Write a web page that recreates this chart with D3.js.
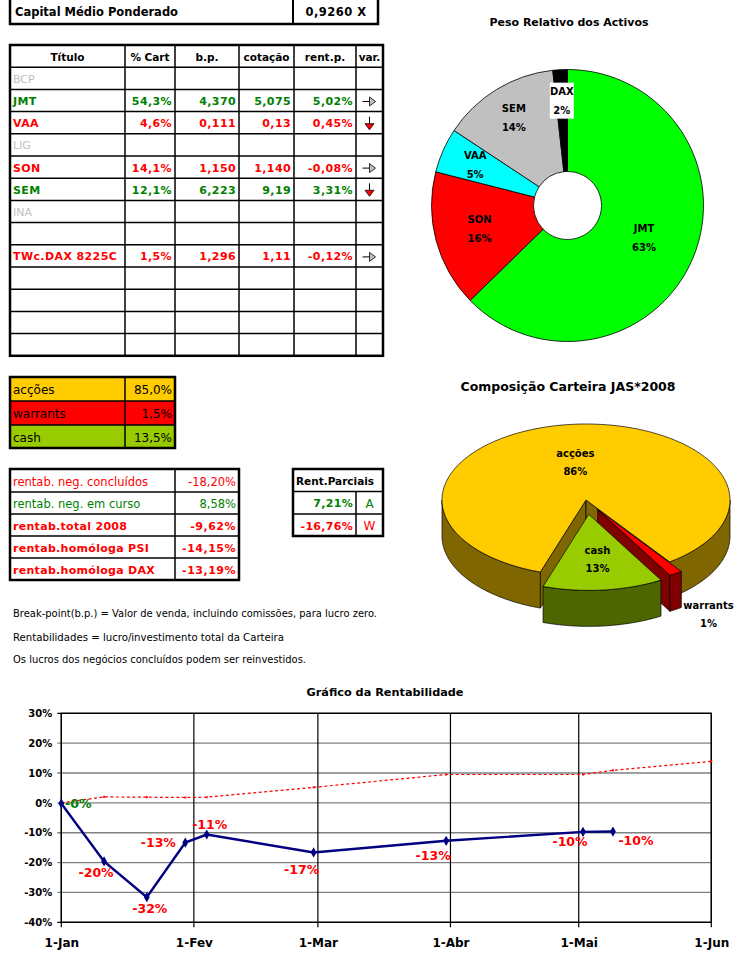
<!DOCTYPE html>
<html><head><meta charset="utf-8">
<script src="https://cdn.jsdelivr.net/npm/d3@7"></script>
<style>body{margin:0;background:#fff}svg{display:block}</style>
</head><body>
<svg id="c" width="749" height="968"></svg>
<script>
// ================= DATA =================
const capitalLabel = "Capital Médio Ponderado";
const capitalValue = "0,9260 X";

const tableHeaders = ["Título", "% Cart", "b.p.", "cotação", "rent.p.", "var."];
const titulos   = ["BCP", "JMT", "VAA", "LIG", "SON", "SEM", "INA", "", "TWc.DAX 8225C", "", "", "", ""];
const pctCart   = [null, 54.3, 4.6, null, 14.1, 12.1, null, null, 1.5, null, null, null, null];
const breakPts  = [null, 4.370, 0.111, null, 1.150, 6.223, null, null, 1.296, null, null, null, null];
const cotacoes  = ["", "5,075", "0,13", "", "1,140", "9,19", "", "", "1,11", "", "", "", ""];
const rentP     = [null, 5.02, 0.45, null, -0.08, 3.31, null, null, -0.12, null, null, null, null];
const variacao  = ["", "right", "down", "", "right", "down", "", "", "right", "", "", "", ""];
const estado    = ["off", "gain", "loss", "off", "loss", "gain", "off", "", "loss", "", "", "", ""];

const donutNames  = ["JMT", "SON", "VAA", "SEM", "DAX"];
const donutValues = [54.3, 14.1, 4.6, 12.1, 1.5];

const compNames  = ["acções", "warrants", "cash"];
const compValues = [85.0, 1.5, 13.5];
const compPieLabels = ["86%", "1%", "13%"];

const rentLabels = ["rentab. neg. concluídos", "rentab. neg. em curso", "rentab.total 2008", "rentab.homóloga PSI", "rentab.homóloga DAX"];
const rentValues = [-18.20, 8.58, -9.62, -14.15, -13.19];
const parciaisHeader = "Rent.Parciais";
const parciaisValues = [7.21, -16.76];
const parciaisTags = ["A", "W"];

const notes = [
  "Break-point(b.p.) = Valor de venda, incluindo comissões, para lucro zero.",
  "Rentabilidades = lucro/investimento total da Carteira",
  "Os lucros dos negócios concluídos podem ser reinvestidos."
];

const lineTitle = "Gráfico da Rentabilidade";
const blueDates  = ["2008-01-01","2008-01-11","2008-01-21","2008-01-30","2008-02-04","2008-02-29","2008-03-31","2008-05-02","2008-05-09"];
const blueValues = [-0.2, -19.6, -31.6, -13.3, -10.6, -16.6, -12.7, -9.7, -9.6];
const redDates   = ["2008-01-01","2008-01-11","2008-01-21","2008-01-30","2008-02-04","2008-02-29","2008-03-31","2008-05-02","2008-05-09","2008-06-01"];
const redValues  = [0, 2.0, 1.9, 1.8, 1.9, 5.2, 9.5, 9.5, 10.9, 13.9];
const yTicks = [-40, -30, -20, -10, 0, 10, 20, 30];
const xTickDates  = ["2008-01-01","2008-02-01","2008-03-01","2008-04-01","2008-05-01","2008-06-01"];
const xTickLabels = ["1-Jan", "1-Fev", "1-Mar", "1-Abr", "1-Mai", "1-Jun"];

// ================= STYLE / LAYOUT =================
const FONT = '"DejaVu Sans", sans-serif';
const GREEN = "#008000", RED = "#FF0000", GRAY = "#C0C0C0";
const svg = d3.select("#c");
const ptFmt = (v, d) => v.toFixed(d).replace(".", ",");

function txt(g, x, y, s, o = {}) {
  const t = g.append("text").attr("x", x).attr("y", y).text(s)
    .attr("font-family", o.font || FONT).attr("font-size", o.size || 11)
    .attr("font-weight", o.bold ? "bold" : "normal")
    .attr("fill", o.fill || "#000").attr("text-anchor", o.anchor || "start")
    .attr("dominant-baseline", "central");
  if (o.len) t.attr("textLength", o.len).attr("lengthAdjust", "spacingAndGlyphs");
  if (o.ls) t.attr("letter-spacing", o.ls);
  return t;
}
function hline(g, x1, x2, y, w) { g.append("line").attr("x1", x1).attr("x2", x2).attr("y1", y).attr("y2", y).attr("stroke", "#000").attr("stroke-width", w); }
function vline(g, x, y1, y2, w) { g.append("line").attr("x1", x).attr("x2", x).attr("y1", y1).attr("y2", y2).attr("stroke", "#000").attr("stroke-width", w); }

// ---------- Capital box ----------
{
  const g = svg.append("g");
  g.append("rect").attr("x", 10).attr("y", -2).attr("width", 368).attr("height", 26).attr("fill", "none").attr("stroke", "#000").attr("stroke-width", 2.5);
  vline(g, 293, 0, 24, 2);
  txt(g, 15, 12, capitalLabel, { bold: true, size: 11.5 });
  txt(g, 336, 12, capitalValue, { bold: true, size: 11.5, anchor: "middle", ls: 0.5 });
}

// ---------- Main table ----------
{
  const g = svg.append("g");
  const cols = [10, 125, 175, 239, 294, 356, 383];
  const top = 45, rh = 22.2, nRows = titulos.length + 1;
  const rowY = i => top + i * rh;
  const bottom = rowY(nRows);
  for (let i = 1; i < nRows; i++) hline(g, cols[0], cols[6], rowY(i), 1.5);
  for (let j = 1; j < 6; j++) vline(g, cols[j], top, bottom, 1.5);
  g.append("rect").attr("x", cols[0]).attr("y", top).attr("width", cols[6] - cols[0]).attr("height", bottom - top)
    .attr("fill", "none").attr("stroke", "#000").attr("stroke-width", 2.5);
  tableHeaders.forEach((h, j) => txt(g, (cols[j] + cols[j + 1]) / 2, rowY(0) + rh / 2 + 1, h, { bold: true, size: 10.5, anchor: "middle" }));
  const colorOf = s => s === "gain" ? GREEN : s === "loss" ? RED : GRAY;
  titulos.forEach((t, i) => {
    const yc = rowY(i + 1) + rh / 2 + 1;
    const col = colorOf(estado[i]);
    const isOff = estado[i] === "off";
    if (t) txt(g, cols[0] + 3, yc, t, { bold: !isOff, size: 11, fill: col, ls: isOff ? 0 : 0.4 });
    const vals = [
      pctCart[i] == null ? "" : ptFmt(pctCart[i], 1) + "%",
      breakPts[i] == null ? "" : ptFmt(breakPts[i], 3),
      cotacoes[i],
      rentP[i] == null ? "" : ptFmt(rentP[i], 2) + "%"
    ];
    vals.forEach((v, k) => { if (v) txt(g, cols[k + 2] - 3, yc, v, { bold: true, size: 11, fill: col, anchor: "end", ls: 0.4 }); });
    const ax = (cols[5] + cols[6]) / 2;
    if (variacao[i] === "right") {
      g.append("line").attr("x1", ax - 7).attr("x2", ax).attr("y1", yc).attr("y2", yc).attr("stroke", "#000").attr("stroke-width", 1);
      g.append("path").attr("d", `M${ax},${yc - 4.5}L${ax + 6},${yc}L${ax},${yc + 4.5}Z`).attr("fill", "#C0C0C0").attr("stroke", "#000").attr("stroke-width", 0.8);
    } else if (variacao[i] === "down") {
      g.append("line").attr("x1", ax).attr("x2", ax).attr("y1", yc - 7).attr("y2", yc).attr("stroke", "#000").attr("stroke-width", 1);
      g.append("path").attr("d", `M${ax - 4.5},${yc}L${ax},${yc + 6}L${ax + 4.5},${yc}Z`).attr("fill", "#FF0000").attr("stroke", "#000").attr("stroke-width", 0.8);
    }
  });
}

// ---------- Composition table ----------
{
  const g = svg.append("g");
  const fills = ["#FFCC00", "#FF0000", "#99CC00"];
  const ys = [377, 401, 425, 448];
  compNames.forEach((n, i) => {
    g.append("rect").attr("x", 10).attr("y", ys[i]).attr("width", 165).attr("height", ys[i + 1] - ys[i]).attr("fill", fills[i]);
    txt(g, 13, (ys[i] + ys[i + 1]) / 2 + 1, n, { size: 12 });
    txt(g, 172, (ys[i] + ys[i + 1]) / 2 + 1, ptFmt(compValues[i], 1) + "%", { size: 12, anchor: "end" });
  });
  hline(g, 10, 175, 401, 1.5); hline(g, 10, 175, 425, 1.5);
  vline(g, 125, 377, 448, 1.5);
  g.append("rect").attr("x", 10).attr("y", 377).attr("width", 165).attr("height", 71).attr("fill", "none").attr("stroke", "#000").attr("stroke-width", 2.5);
}

// ---------- Rentab table ----------
{
  const g = svg.append("g");
  const ys = [469, 492, 514, 536, 558, 580];
  rentLabels.forEach((l, i) => {
    const yc = (ys[i] + ys[i + 1]) / 2 + 1;
    const bold = i >= 2;
    const col = rentValues[i] < 0 ? RED : GREEN;
    txt(g, 13, yc, l, { size: bold ? 11 : 11.5, bold, fill: col, ls: bold ? 0.3 : 0 });
    txt(g, 236, yc, ptFmt(rentValues[i], 2) + "%", { size: bold ? 11 : 11.5, bold, fill: col, anchor: "end", ls: bold ? 0.5 : 0 });
    if (i > 0) hline(g, 10, 239, ys[i], 1.5);
  });
  vline(g, 175, 469, 580, 1.5);
  g.append("rect").attr("x", 10).attr("y", 469).attr("width", 229).attr("height", 111).attr("fill", "none").attr("stroke", "#000").attr("stroke-width", 2.5);

  // Rent.Parciais
  const ys2 = [469, 491.5, 514, 536];
  txt(g, 296, (ys2[0] + ys2[1]) / 2 + 1, parciaisHeader, { bold: true, size: 10.5 });
  parciaisValues.forEach((v, i) => {
    const yc = (ys2[i + 1] + ys2[i + 2]) / 2 + 1;
    const col = v < 0 ? RED : GREEN;
    txt(g, 353, yc, ptFmt(v, 2) + "%", { bold: true, size: 11, fill: col, anchor: "end", ls: 0.3 });
    txt(g, 369.5, yc, parciaisTags[i], { size: 12, fill: col, anchor: "middle" });
  });
  hline(g, 293, 383, 491.5, 1.5); hline(g, 293, 383, 514, 1.5);
  vline(g, 356, 491.5, 536, 1.5);
  g.append("rect").attr("x", 293).attr("y", 469).attr("width", 90).attr("height", 67).attr("fill", "none").attr("stroke", "#000").attr("stroke-width", 2.5);
}

// ---------- Notes ----------
{
  const g = svg.append("g");
  const ys = [612.5, 636.5, 658.5], lens = [364, 271, 293];
  notes.forEach((n, i) => txt(g, 13, ys[i], n, { size: 10.5, len: lens[i] }));
}

// ---------- Donut: Peso Relativo dos Activos ----------
{
  const g = svg.append("g");
  txt(g, 569, 22, "Peso Relativo dos Activos", { bold: true, size: 11, anchor: "middle", len: 159 });
  const cx = 567.5, cy = 205.5;
  const colors = ["#00FF00", "#FF0000", "#00FFFF", "#C0C0C0", "#000000"];
  const labelR = [83, 91, 101, 103, 105];
  const pie = d3.pie().sort(null);
  const arcs = pie(donutValues);
  const arc = d3.arc().innerRadius(34).outerRadius(136);
  const sum = d3.sum(donutValues);
  const pg = g.append("g").attr("transform", `translate(${cx},${cy})`);
  pg.selectAll("path").data(arcs).join("path").attr("d", arc)
    .attr("fill", (d, i) => colors[i]).attr("stroke", "#000").attr("stroke-width", 0.8);
  arcs.forEach((a, i) => {
    const m = (a.startAngle + a.endAngle) / 2;
    const x = cx + labelR[i] * Math.sin(m), y = cy - labelR[i] * Math.cos(m);
    if (donutNames[i] === "DAX") g.append("rect").attr("x", x - 12).attr("y", y - 18).attr("width", 24).attr("height", 36).attr("fill", "#fff");
    txt(g, x, y - 9.5, donutNames[i], { bold: true, size: 10, anchor: "middle" });
    txt(g, x, y + 9.5, Math.round(donutValues[i] / sum * 100) + "%", { bold: true, size: 10, anchor: "middle" });
  });
}

// ---------- 3D pie: Composição Carteira ----------
{
  const g = svg.append("g");
  txt(g, 568, 386, "Composição Carteira JAS*2008", { size: 12.5, bold: true, anchor: "middle", len: 215 });
  const cx = 586, cy = 500, rx = 144, ry = 76, h = 36;
  const explode = [0, 0.15, 0.19];
  const topCol = ["#FFCC00", "#FF0000", "#99CC00"], sideCol = ["#806600", "#800000", "#4D6600"];
  const start = 198.5 * Math.PI / 180;
  const pie = d3.pie().sort(null).startAngle(start).endAngle(start + 2 * Math.PI);
  const arcs = pie(compValues);
  const line = d3.line();
  const P = (a, r, off) => [cx + off[0] + rx * r * Math.sin(a), cy + off[1] - ry * r * Math.cos(a)];
  const arcPts = (a0, a1, off) => { const n = Math.max(2, Math.ceil((a1 - a0) / 0.02)); return d3.range(n + 1).map(k => P(a0 + (a1 - a0) * k / n, 1, off)); };
  const poly = (pts, fill) => g.append("path").attr("d", line(pts) + "Z").attr("fill", fill).attr("stroke", "#000").attr("stroke-width", 0.7).attr("stroke-linejoin", "round");
  arcs.forEach((s, i) => {
    const mid = (s.startAngle + s.endAngle) / 2;
    const off = [explode[i] * rx * Math.sin(mid), -explode[i] * ry * Math.cos(mid)];
    const c = [cx + off[0], cy + off[1]];
    [[s.startAngle, s.startAngle - Math.PI / 2], [s.endAngle, s.endAngle + Math.PI / 2]].forEach(([a, n]) => {
      if (Math.cos(n) < 0) { const p = P(a, 1, off); poly([c, p, [p[0], p[1] + h], [c[0], c[1] + h]], sideCol[i]); }
    });
    for (let k = -1; k <= 2; k++) {
      const lo = Math.max(s.startAngle, Math.PI / 2 + 2 * Math.PI * k), hi = Math.min(s.endAngle, 3 * Math.PI / 2 + 2 * Math.PI * k);
      if (hi > lo) { const t = arcPts(lo, hi, off); poly(t.concat(t.map(p => [p[0], p[1] + h]).reverse()), sideCol[i]); }
    }
    poly([c].concat(arcPts(s.startAngle, s.endAngle, off)), topCol[i]);
  });
  const labR = [0.5, 1.57, 0.6], labDy = [0, 14, 0];
  arcs.forEach((s, i) => {
    const mid = (s.startAngle + s.endAngle) / 2;
    const off = [explode[i] * rx * Math.sin(mid), -explode[i] * ry * Math.cos(mid)];
    const p = P(mid, labR[i], i === 1 ? [0, 0] : off);
    txt(g, p[0], p[1] + labDy[i] - 9, compNames[i], { bold: true, size: 10, anchor: "middle" });
    txt(g, p[0], p[1] + labDy[i] + 9, compPieLabels[i], { bold: true, size: 10, anchor: "middle" });
  });
}

// ---------- Line chart ----------
{
  const g = svg.append("g");
  const L = 61.3, R = 711.3, T = 713.3, B = 922.3;
  const parse = d3.utcParse("%Y-%m-%d");
  const x = d3.scaleUtc().domain([parse("2008-01-01"), parse("2008-06-01")]).range([L, R]);
  const y = d3.scaleLinear().domain([-40, 30]).range([B, T]);
  txt(g, 385, 692, lineTitle, { bold: true, size: 11, anchor: "middle", len: 157 });
  g.selectAll(".hg").data(yTicks).join("line").attr("x1", L - 4).attr("x2", R).attr("y1", d => y(d)).attr("y2", d => y(d))
    .attr("stroke", d => d === -40 || d === 30 ? "#000" : "#808080").attr("stroke-width", 1.3);
  const xt = xTickDates.map(parse);
  g.selectAll(".vg").data(xt).join("line").attr("x1", d => x(d)).attr("x2", d => x(d)).attr("y1", T).attr("y2", B + 5)
    .attr("stroke", "#000").attr("stroke-width", 1.2);
  g.append("rect").attr("x", L).attr("y", T).attr("width", R - L).attr("height", B - T).attr("fill", "none").attr("stroke", "#000").attr("stroke-width", 1.3);
  const ya = g.append("g").attr("transform", `translate(${L},0)`)
    .call(d3.axisLeft(y).tickValues(yTicks).tickSize(0).tickPadding(9).tickFormat(d => d + "%"));
  ya.select(".domain").remove();
  ya.selectAll("text").attr("font-family", FONT).attr("font-size", 10).attr("font-weight", "bold").attr("fill", "#000");
  const xa = g.append("g").attr("transform", `translate(0,${B})`)
    .call(d3.axisBottom(x).tickValues(xt).tickSize(0).tickPadding(16).tickFormat((d, i) => xTickLabels[i]));
  xa.select(".domain").remove();
  xa.selectAll("text").attr("font-family", FONT).attr("font-size", 12).attr("font-weight", "bold").attr("fill", "#000");

  const red = redDates.map((d, i) => [x(parse(d)), y(redValues[i])]);
  g.append("path").attr("d", d3.line()(red)).attr("fill", "none").attr("stroke", "#FF0000").attr("stroke-width", 1.2).attr("stroke-dasharray", "3,2.5");
  g.selectAll(".rm").data(red).join("rect").attr("x", d => d[0] - 1).attr("y", d => d[1] - 1).attr("width", 2).attr("height", 2).attr("fill", "#FF0000");

  const blue = blueDates.map((d, i) => [x(parse(d)), y(blueValues[i])]);
  g.append("path").attr("d", d3.line()(blue)).attr("fill", "none").attr("stroke", "#000080").attr("stroke-width", 2.4);
  g.selectAll(".bm").data(blue).join("path").attr("transform", d => `translate(${d[0]},${d[1]})`)
    .attr("d", d3.symbol(d3.symbolDiamond, 30)).attr("fill", "#000080");

  const labOff = [[17, 0], [-8, 11], [3, 11], [-27, 0], [3, -10], [-12, 17], [-13, 15], [-13, 10], [23, 9]];
  const fmt = v => (v < 0 ? "-" : "") + Math.abs(Math.round(v)) + "%";
  blue.forEach((p, i) => {
    txt(g, p[0] + labOff[i][0], p[1] + labOff[i][1], fmt(blueValues[i]), { bold: true, size: 12.5, anchor: "middle", fill: i === 0 ? GREEN : RED });
  });
}
</script>
</body></html>
